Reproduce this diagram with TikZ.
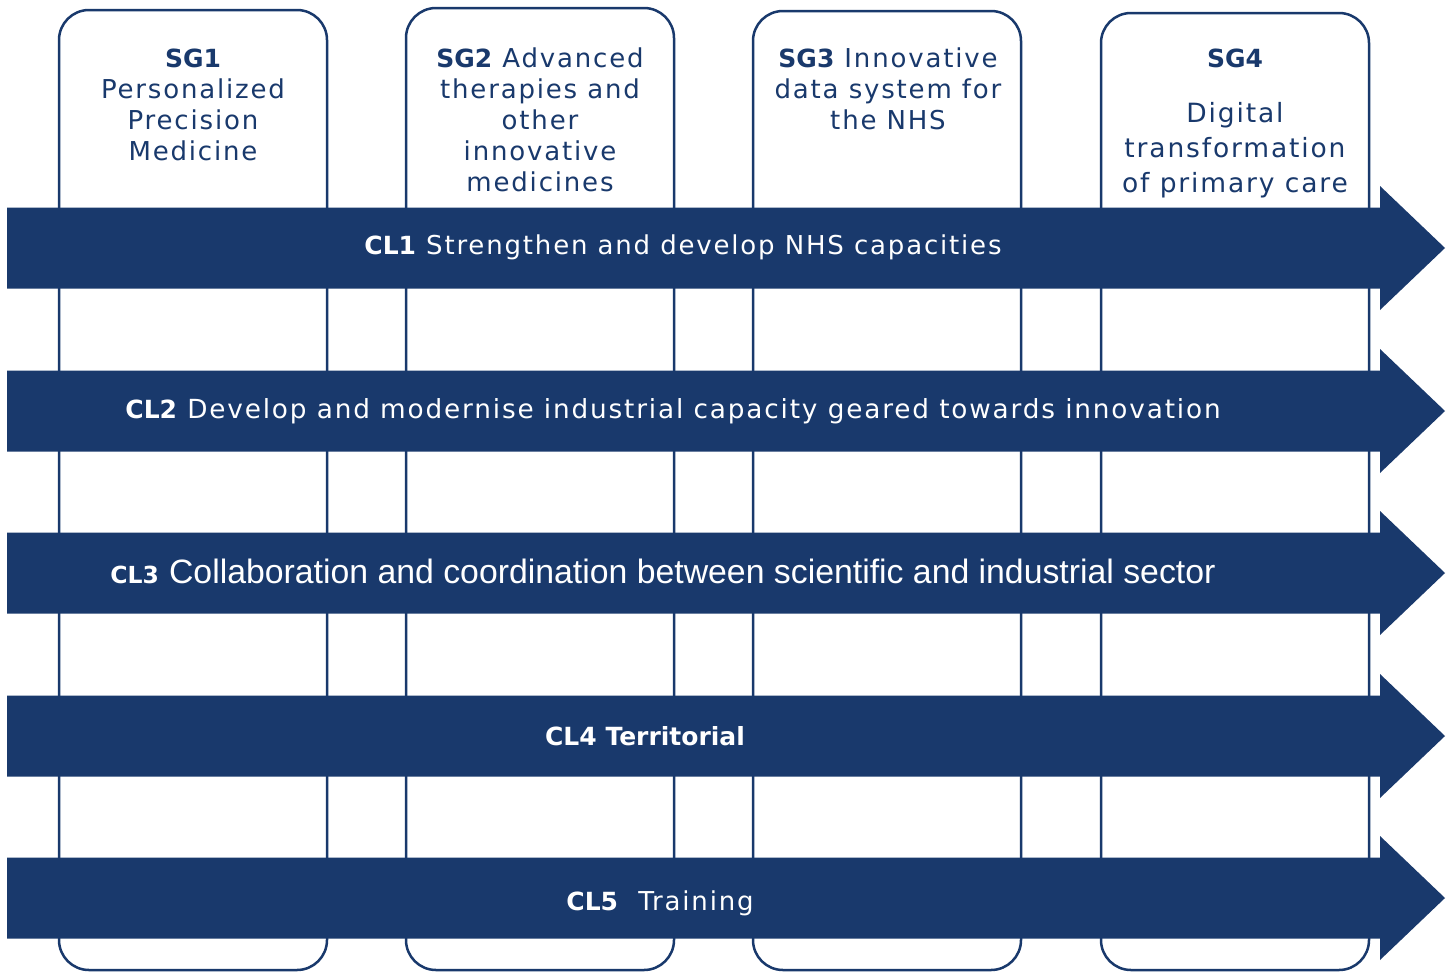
\documentclass[tikz,border=0pt]{standalone}
\usepackage{fontspec}
\setmainfont{DejaVu Sans}
\newfontfamily\spaced[LetterSpace=7]{DejaVu Sans}
\newfontfamily\arialfont{Liberation Sans}
\definecolor{navy}{RGB}{25,57,108}
\begin{document}
\begin{tikzpicture}[x=1pt,y=-1pt,
  column/.style={draw=navy,line width=2.5pt,rounded corners=30pt},
  sglabel/.style={text=navy,align=center,inner sep=0pt,anchor=base,font=\spaced\fontsize{26}{31}\selectfont},
  band/.style={fill=navy},
  cllabel/.style={text=white,inner sep=0pt,anchor=base,font=\spaced\fontsize{26}{30}\selectfont}]
\useasboundingbox (0,0) rectangle (1454,972);
\fill[white] (0,0) rectangle (1454,972);

% strategic goal columns
\draw[column] (59,10) rectangle (327,970);
\draw[column] (406,8) rectangle (674,970);
\draw[column] (753,11) rectangle (1021,970);
\draw[column] (1101,13) rectangle (1369,970);

% column headings (anchored at the baseline of their last line)
\newcommand{\sgb}[1]{{\normalfont\bfseries\fontsize{25}{31}\selectfont #1}}
\node[sglabel] (sg1) at (193,160) {\sgb{SG1}\\Personalized\\Precision\\Medicine};
\node[sglabel] (sg2) at (540,191) {\sgb{SG2} Advanced\\therapies and\\other\\innovative\\medicines};
\node[sglabel] (sg3) at (888,129) {\sgb{SG3} Innovative\\data system for\\the NHS};
\node[sglabel] (sg4) at (1235,67) {\sgb{SG4}};
\node[sglabel,font=\spaced\fontsize{26.5}{35}\selectfont] (sg4b) at (1235,192) {Digital\\transformation\\of primary care};

% cross-cutting lines: arrows across all columns
\foreach \c in {248,411,573,736,898}{
  \fill[band] (7,\c-40.5) -- (1380,\c-40.5) -- (1380,\c-62) -- (1445,\c)
    -- (1380,\c+62) -- (1380,\c+40.5) -- (7,\c+40.5) -- cycle;
}

\newcommand{\clb}[1]{{\normalfont\bfseries\fontsize{25}{30}\selectfont #1}}
\node[cllabel] (cl1) at (683,254) {\clb{CL1} Strengthen and develop NHS capacities};
\node[cllabel,font=\spaced\fontsize{26.3}{30}\selectfont] (cl2) at (673,418) {\clb{CL2} Develop and modernise industrial capacity geared towards innovation};
\node[cllabel] (cl3) at (663,583) {{\normalfont\bfseries\fontsize{23.5}{30}\selectfont CL3} {\arialfont\fontsize{33.8}{30}\selectfont Collaboration and coordination between scientific and industrial sector}};
\node[cllabel] (cl4) at (645,745) {\clb{CL4 Territorial}};
\node[cllabel] (cl5) at (660,910) {\clb{CL5}\ \ Training};
\end{tikzpicture}
\end{document}
